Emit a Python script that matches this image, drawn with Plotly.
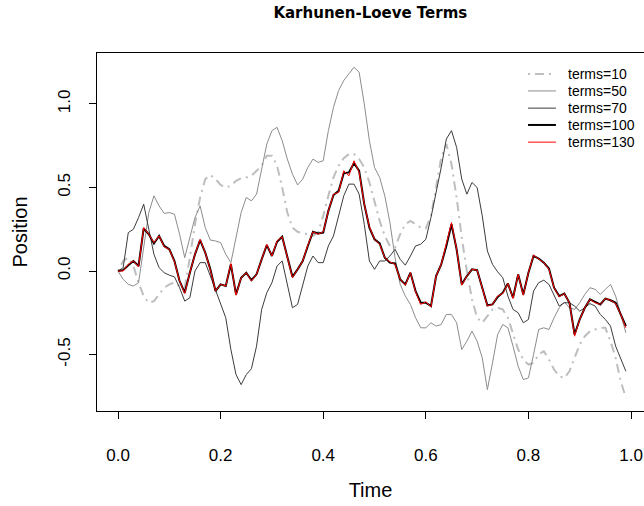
import numpy as np
import plotly.graph_objects as go

# Sample times on [0, 0.99]
time = np.round(np.arange(100) * 0.01, 2)

# Partial sums of the Karhunen-Loeve expansion for one Brownian path
terms_10 = [0.00, 0.06, 0.08, 0.03, -0.07, -0.15, -0.19, -0.18, -0.14, -0.10,
            -0.08, -0.07, -0.09, -0.10, 0.08, 0.28, 0.44, 0.55, 0.575, 0.55,
            0.515, 0.50, 0.51, 0.54, 0.555, 0.56, 0.57, 0.60, 0.63, 0.69,
            0.69, 0.63, 0.50, 0.35, 0.26, 0.235, 0.225, 0.22, 0.21, 0.23,
            0.33, 0.45, 0.56, 0.63, 0.675, 0.70, 0.70, 0.67, 0.62, 0.53,
            0.42, 0.30, 0.21, 0.15, 0.14, 0.22, 0.28, 0.30, 0.28, 0.26,
            0.255, 0.33, 0.50, 0.68, 0.76, 0.64, 0.44, 0.20, 0.00, -0.17,
            -0.28, -0.31, -0.27, -0.23, -0.22, -0.23, -0.28, -0.38, -0.47, -0.53,
            -0.56, -0.55, -0.50, -0.48, -0.53, -0.59, -0.63, -0.64, -0.60, -0.52,
            -0.44, -0.39, -0.36, -0.35, -0.34, -0.34, -0.42, -0.52, -0.66, -0.76]

terms_50 = [0.00, -0.05, -0.08, -0.09, -0.07, 0.15, 0.35, 0.45, 0.39, 0.345,
            0.35, 0.34, 0.22, 0.08, 0.20, 0.32, 0.39, 0.26, 0.185, 0.18,
            0.17, 0.10, 0.05, 0.20, 0.35, 0.44, 0.42, 0.46, 0.62, 0.76,
            0.84, 0.86, 0.78, 0.67, 0.58, 0.515, 0.55, 0.62, 0.67, 0.65,
            0.66, 0.84, 0.98, 1.08, 1.14, 1.18, 1.22, 1.19, 1.00, 0.78,
            0.62, 0.56, 0.45, 0.29, 0.08, -0.08, -0.15, -0.20, -0.28, -0.34,
            -0.34, -0.31, -0.33, -0.32, -0.26, -0.26, -0.31, -0.47, -0.42, -0.36,
            -0.42, -0.52, -0.71, -0.55, -0.38, -0.32, -0.34, -0.45, -0.57, -0.65,
            -0.64, -0.50, -0.35, -0.34, -0.35, -0.28, -0.22, -0.185, -0.22, -0.23,
            -0.19, -0.14, -0.10, -0.11, -0.14, -0.11, -0.08, -0.15, -0.26, -0.37]

terms_70 = [0.00, 0.02, 0.23, 0.25, 0.32, 0.40, 0.25, 0.10, 0.02, -0.01,
            -0.025, -0.035, -0.10, -0.18, -0.16, 0.00, 0.05, 0.05, -0.03, -0.11,
            -0.20, -0.28, -0.47, -0.62, -0.68, -0.62, -0.585, -0.45, -0.23, -0.13,
            -0.07, 0.03, 0.06, -0.09, -0.22, -0.20, -0.08, 0.03, 0.09, 0.05,
            0.05, 0.15, 0.21, 0.33, 0.45, 0.52, 0.52, 0.46, 0.28, 0.06,
            0.01, 0.06, 0.06, 0.09, 0.13, 0.07, 0.035, 0.09, 0.15, 0.16,
            0.19, 0.32, 0.46, 0.62, 0.79, 0.84, 0.74, 0.55, 0.46, 0.53,
            0.50, 0.33, 0.12, 0.04, -0.005, -0.04, -0.15, -0.23, -0.25, -0.31,
            -0.29, -0.12, -0.07, -0.055, -0.08, -0.15, -0.21, -0.19, -0.19, -0.21,
            -0.24, -0.22, -0.195, -0.21, -0.26, -0.29, -0.33, -0.45, -0.53, -0.60]

terms_100 = [0.00, 0.005, 0.035, 0.06, 0.03, 0.255, 0.22, 0.165, 0.21, 0.15,
             0.13, 0.06, -0.06, -0.13, -0.01, 0.10, 0.185, 0.11, 0.01, -0.12,
             -0.08, -0.09, 0.04, -0.14, -0.04, -0.01, -0.055, -0.02, 0.07, 0.155,
             0.09, 0.175, 0.205, 0.09, -0.035, 0.01, 0.06, 0.15, 0.235, 0.225,
             0.23, 0.36, 0.455, 0.48, 0.585, 0.59, 0.645, 0.60, 0.40, 0.26,
             0.19, 0.165, 0.08, 0.05, 0.045, -0.05, -0.08, -0.01, -0.12, -0.19,
             -0.19, -0.21, -0.03, 0.04, 0.15, 0.28, 0.13, -0.08, -0.03, 0.01,
             0.005, -0.10, -0.205, -0.20, -0.155, -0.13, -0.075, -0.16, -0.02, -0.14,
             -0.01, 0.09, 0.075, 0.05, 0.015, -0.10, -0.15, -0.135, -0.19, -0.38,
             -0.29, -0.22, -0.17, -0.185, -0.20, -0.165, -0.175, -0.19, -0.26, -0.33]

terms_130 = [0.00, 0.00, 0.04, 0.06, 0.025, 0.26, 0.22, 0.17, 0.21, 0.145,
             0.13, 0.055, -0.06, -0.135, -0.01, 0.10, 0.19, 0.11, 0.005, -0.12,
             -0.08, -0.09, 0.045, -0.145, -0.04, -0.01, -0.06, -0.02, 0.07, 0.16,
             0.09, 0.18, 0.205, 0.09, -0.04, 0.01, 0.06, 0.155, 0.235, 0.22,
             0.235, 0.36, 0.46, 0.47, 0.60, 0.57, 0.66, 0.59, 0.40, 0.265,
             0.19, 0.16, 0.08, 0.055, 0.04, -0.05, -0.085, -0.01, -0.125, -0.20,
             -0.185, -0.215, -0.03, 0.04, 0.16, 0.29, 0.13, -0.085, -0.03, 0.01,
             0.005, -0.10, -0.21, -0.20, -0.15, -0.135, -0.075, -0.165, -0.02, -0.145,
             -0.01, 0.095, 0.075, 0.05, 0.01, -0.10, -0.155, -0.135, -0.19, -0.39,
             -0.29, -0.22, -0.17, -0.19, -0.20, -0.165, -0.175, -0.195, -0.26, -0.34]

labels = ["terms=10", "terms=50", "terms=70", "terms=100", "terms=130"]
series = [terms_10, terms_50, terms_70, terms_100, terms_130]
styles = [
    dict(color="#bebebe", width=2, dash="2px,5px,9px,5px"),
    dict(color="#8c8c8c", width=1, dash="solid"),
    dict(color="#3c3c3c", width=1, dash="solid"),
    dict(color="#000000", width=2, dash="solid"),
    dict(color="#ff0000", width=1, dash="solid"),
]

fig = go.Figure()
for name, values, style in zip(labels, series, styles):
    fig.add_trace(go.Scatter(x=time, y=values, mode="lines", name=name,
                             line=style, showlegend=False, hoverinfo="skip"))

# Box-less legend in the upper right: short line samples followed by labels
sample_x0, sample_x1, text_x = 0.788, 0.839, 0.857
row_y = [0.941, 0.894, 0.846, 0.799, 0.751]
for name, style, yy in zip(labels, styles, row_y):
    fig.add_shape(type="line", xref="paper", yref="paper",
                  x0=sample_x0, x1=sample_x1, y0=yy, y1=yy, line=style)
    fig.add_annotation(xref="paper", yref="paper", x=text_x, y=yy, text=name,
                       showarrow=False, xanchor="left", yanchor="middle",
                       font=dict(family="Liberation Sans, Arial", size=14, color="black"))

x_ticks = [0.0, 0.2, 0.4, 0.6, 0.8, 1.0]
y_ticks = [-0.5, 0.0, 0.5, 1.0]

fig.update_layout(
    width=644, height=506,
    margin=dict(l=97, r=0, t=53, b=95),
    paper_bgcolor="white", plot_bgcolor="white",
    font=dict(family="Liberation Sans, Arial", size=17, color="black"),
    title=dict(text="<b>Karhunen-Loeve Terms</b>", x=0.575, xanchor="center",
               y=0.974, yanchor="middle",
               font=dict(family="DejaVu Sans", size=15, color="black")),
    xaxis=dict(range=[-0.041, 1.0253], tickvals=x_ticks,
               ticktext=[f"{v:.1f}" for v in x_ticks],
               ticks="outside", ticklen=7, tickcolor="black", tickwidth=1,
               showline=True, linecolor="black", linewidth=1, mirror=True,
               showgrid=False, zeroline=False, ticklabelstandoff=22,
               title=dict(text="Time", standoff=18), automargin=False),
    yaxis=dict(range=[-0.838, 1.305], tickvals=y_ticks,
               ticktext=[f"{v:.1f}" for v in y_ticks], tickangle=-90,
               ticks="outside", ticklen=7, tickcolor="black", tickwidth=1,
               showline=True, linecolor="black", linewidth=1, mirror=False,
               showgrid=False, zeroline=False, ticklabelstandoff=12,
               title=dict(text="Position", standoff=22), automargin=False),
)

fig.write_html("out.html")
